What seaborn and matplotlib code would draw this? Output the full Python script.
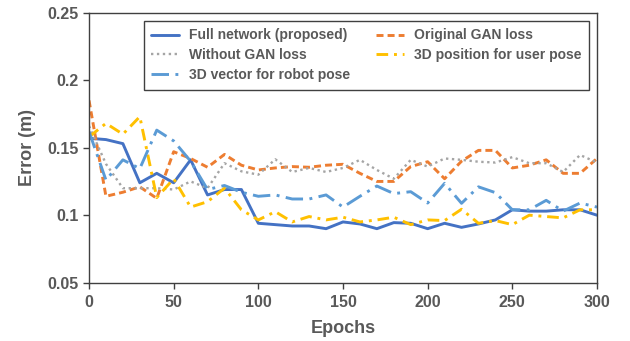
import seaborn as sns
import matplotlib.pyplot as plt
import pandas as pd

epochs = list(range(0, 301, 10))

full_network = [0.157, 0.156, 0.153, 0.124, 0.131, 0.124, 0.141, 0.115, 0.119, 0.119,
                0.094, 0.093, 0.092, 0.092, 0.090, 0.095, 0.0935, 0.090, 0.0945, 0.094,
                0.090, 0.094, 0.091, 0.0935, 0.0965, 0.104, 0.103, 0.103, 0.104, 0.104, 0.100]
original_gan = [0.185, 0.114, 0.117, 0.121, 0.1125, 0.147, 0.142, 0.1355, 0.145, 0.137,
                0.1335, 0.135, 0.136, 0.1355, 0.137, 0.1377, 0.131, 0.125, 0.125, 0.136,
                0.1396, 0.127, 0.140, 0.148, 0.148, 0.135, 0.137, 0.141, 0.131, 0.131, 0.142]
without_gan = [0.166, 0.138, 0.120, 0.120, 0.120, 0.119, 0.125, 0.120, 0.1385, 0.1325,
               0.130, 0.1414, 0.132, 0.135, 0.132, 0.135, 0.141, 0.1335, 0.127, 0.141,
               0.136, 0.142, 0.141, 0.1396, 0.139, 0.143, 0.1385, 0.1385, 0.132, 0.1446, 0.139]
user_pose = [0.158, 0.168, 0.160, 0.173, 0.113, 0.127, 0.106, 0.110, 0.120, 0.104,
             0.0965, 0.1026, 0.095, 0.099, 0.0965, 0.0985, 0.095, 0.0965, 0.0985, 0.093,
             0.0965, 0.096, 0.1044, 0.094, 0.096, 0.093, 0.100, 0.099, 0.098, 0.104, 0.104]
robot_pose = [0.162, 0.126, 0.141, 0.1345, 0.163, 0.155, 0.140, 0.119, 0.122, 0.117,
              0.114, 0.115, 0.112, 0.112, 0.115, 0.106, 0.114, 0.1216, 0.116, 0.1174,
              0.109, 0.1236, 0.1088, 0.121, 0.1167, 0.104, 0.104, 0.111, 0.103, 0.109, 0.106]

names = ['Full network (proposed)', 'Original GAN loss', 'Without GAN loss',
         '3D position for user pose', '3D vector for robot pose']
series = [full_network, original_gan, without_gan, user_pose, robot_pose]

df = pd.concat([pd.DataFrame({'epoch': epochs, 'error': vals, 'method': n})
                for n, vals in zip(names, series)])

colors = {names[0]: '#4472C4', names[1]: '#ED7D31', names[2]: '#A5A5A5',
          names[3]: '#FFC000', names[4]: '#5B9BD5'}
dashes = {names[0]: '', names[1]: (2.4, 1.4), names[2]: (1, 1.5),
          names[3]: (4, 2, 1, 2), names[4]: (6, 2.2, 1, 2.2)}

sns.set_style('white')
plt.rcParams['font.family'] = ['Liberation Sans', 'DejaVu Sans']

fig = plt.figure(figsize=(6.3, 3.41), dpi=100)
ax = fig.add_axes([0.1413, 0.171, 0.8063, 0.7918])
sns.lineplot(data=df, x='epoch', y='error', hue='method', style='method',
             palette=colors, dashes=dashes, linewidth=2.1, ax=ax)
for ln in ax.lines:
    if ln.get_color() == '#A5A5A5':
        ln.set_linewidth(1.7)

ax.set_xlim(0, 300)
ax.set_ylim(0.05, 0.25)
ax.set_xticks(range(0, 301, 50))
ax.set_yticks([0.05, 0.1, 0.15, 0.2, 0.25])
ax.set_yticklabels(['0.05', '0.1', '0.15', '0.2', '0.25'])
txt = '#595959'
ax.tick_params(axis='both', direction='out', length=4, width=1, color='#404040',
               labelsize=11.5, labelcolor=txt, left=True, bottom=True)
ax.tick_params(axis='x', pad=5)
for lab in ax.get_xticklabels() + ax.get_yticklabels():
    lab.set_fontweight('bold')
for s in ax.spines.values():
    s.set_color('#404040')
    s.set_linewidth(1)
ax.set_xlabel('Epochs', fontsize=13, fontweight='bold', color=txt, labelpad=7)
ax.set_ylabel('Error (m)', fontsize=13, fontweight='bold', color=txt, labelpad=8)

h, l = ax.get_legend_handles_labels()
order = [0, 2, 4, 1, 3]
leg = ax.legend([h[i] for i in order], [l[i] for i in order], ncol=2,
                loc='upper right', bbox_to_anchor=(0.984, 0.97), borderaxespad=0,
                fancybox=False, edgecolor='#404040', framealpha=1, handlelength=2.0,
                handletextpad=0.7, columnspacing=1.9, labelspacing=0.42,
                borderpad=0.55, prop={'weight': 'bold', 'size': 10})
leg.get_frame().set_linewidth(1)
for t in leg.get_texts():
    t.set_color(txt)

fig.savefig('out.png', dpi=100)
